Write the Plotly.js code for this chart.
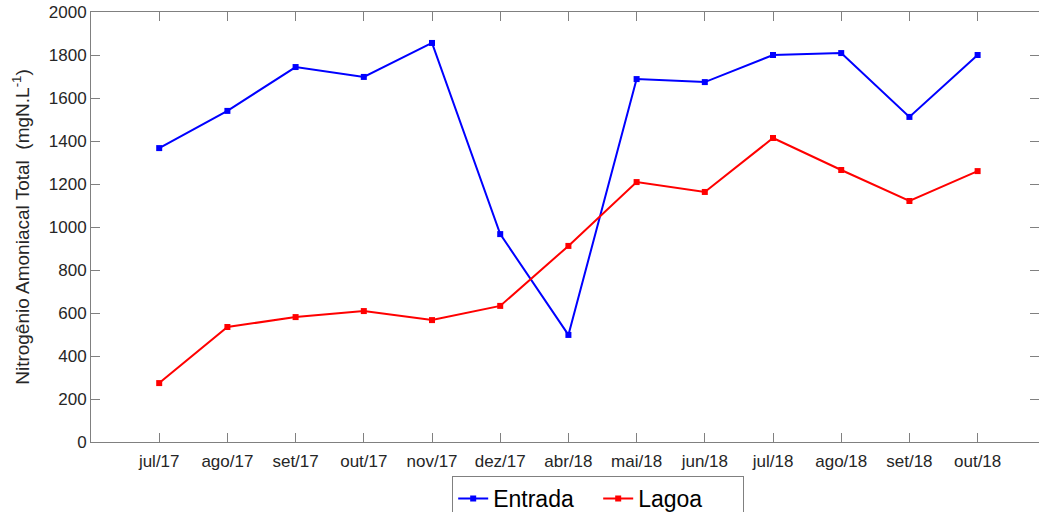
<!DOCTYPE html>
<html>
<head>
<meta charset="utf-8">
<script src="https://cdn.plot.ly/plotly-3.0.1.min.js"></script>
<style>html,body{margin:0;padding:0;background:#fff;}#chart{width:1039px;height:512px;}</style>
</head>
<body>
<div id="chart"></div>
<script>
const categories = ["jul/17","ago/17","set/17","out/17","nov/17","dez/17","abr/18","mai/18","jun/18","jul/18","ago/18","set/18","out/18"];
const positions = [1,2,3,4,5,6,7,8,9,10,11,12,13];
const entrada = [1367,1540,1744,1698,1856,967,498,1688,1674,1800,1809,1512,1800];
const lagoa = [274,535,581,609,567,633,912,1209,1163,1414,1265,1121,1260];
const yTicks = [0,200,400,600,800,1000,1200,1400,1600,1800,2000];

const traces = [
  {x: positions, y: entrada, name: "Entrada", type: "scatter", mode: "lines+markers",
   line: {color: "#0000FF", width: 2}, marker: {symbol: "square", size: 6, color: "#0000FF"}},
  {x: positions, y: lagoa, name: "Lagoa", type: "scatter", mode: "lines+markers",
   line: {color: "#FF0000", width: 2}, marker: {symbol: "square", size: 6, color: "#FF0000"}}
];

const axisCommon = {
  showline: true, linecolor: "#808080", linewidth: 1,
  ticks: "inside", ticklen: 9, tickcolor: "#808080", tickwidth: 1,
  mirror: "ticks", showgrid: false, zeroline: false,
  tickfont: {family: "Liberation Sans, Arial, sans-serif", size: 17, color: "#262626"}
};

const layout = {
  width: 1039, height: 512,
  margin: {l: 91, r: 0, t: 12, b: 70, autoexpand: false},
  paper_bgcolor: "#fff", plot_bgcolor: "#fff",
  showlegend: true,
  xaxis: Object.assign({}, axisCommon, {
    range: [0, 13.9], tickmode: "array", tickvals: positions, ticktext: categories,
    ticklabelstandoff: 4
  }),
  yaxis: Object.assign({}, axisCommon, {
    range: [0, 2000], tickmode: "array", tickvals: yTicks, ticktext: yTicks.map(String),
    title: {text: "Nitrogênio Amoniacal Total  (mgN.L<sup>-1</sup>)", standoff: 14,
      font: {family: "Liberation Sans, Arial, sans-serif", size: 19, color: "#262626"}}
  }),
  legend: {
    orientation: "h", x: 0.381, xanchor: "left", y: -0.079, yanchor: "top",
    entrywidth: 100, entrywidthmode: "pixels",
    bordercolor: "#808080", borderwidth: 1, bgcolor: "#fff",
    font: {family: "Liberation Sans, Arial, sans-serif", size: 23, color: "#000"}
  }
};

Plotly.newPlot("chart", traces, layout, {displayModeBar: false, staticPlot: true});
</script>
</body>
</html>
